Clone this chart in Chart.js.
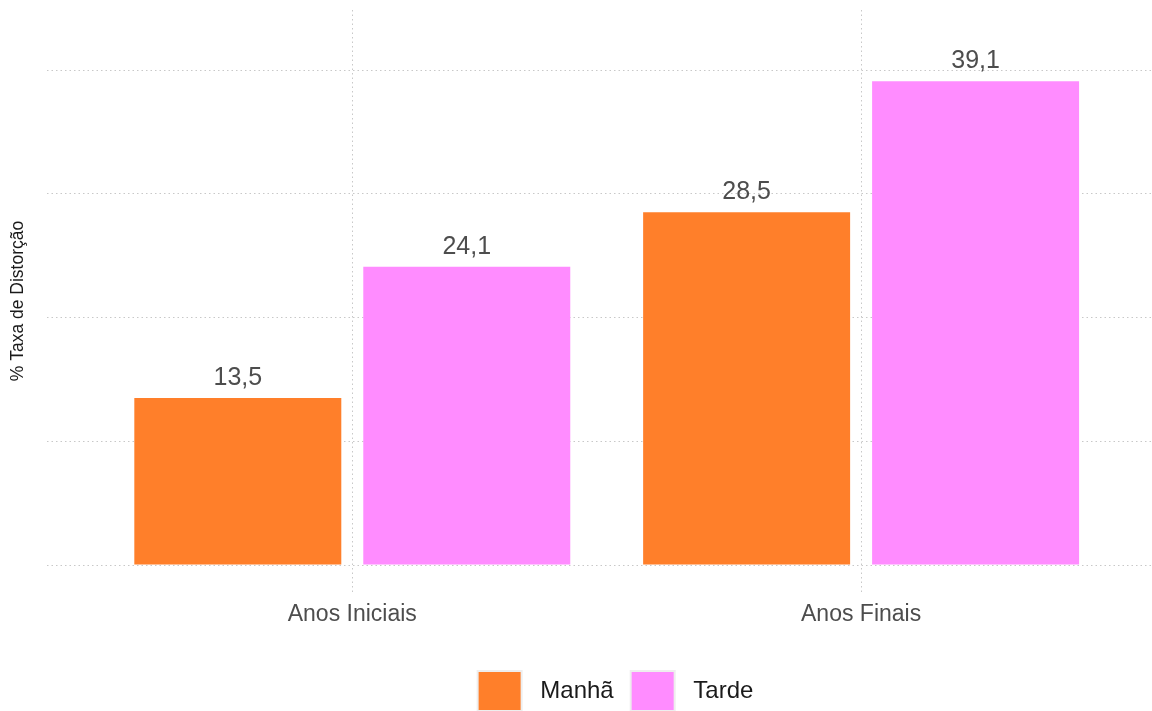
<!DOCTYPE html>
<html>
<head>
<meta charset="utf-8">
<script src="https://cdn.jsdelivr.net/npm/chart.js@4.4.0/dist/chart.umd.min.js"></script>
<style>
  html, body { margin: 0; padding: 0; background: #ffffff; }
  #wrap { width: 1152px; height: 711px; }
</style>
</head>
<body>
<div id="wrap"><canvas id="chart"></canvas></div>
<script>
// etapas de ensino (eixo x)
const categories = ['Anos Iniciais', 'Anos Finais'];
// taxa de distorção idade-série por turno
const manha = [13.5, 28.5];
const tarde = [24.1, 39.1];
const seriesNames = ['Manhã', 'Tarde'];
const yTicks = [0, 10, 20, 30, 40];

const FONT = "'Liberation Sans', Arial, Helvetica, sans-serif";
const gridDots = {
  color: '#c8c8c8',
  lineWidth: 1,
  drawTicks: false,
  offset: false
};

const fmt = v => v.toFixed(1).replace('.', ',');

// rótulos de valor acima de cada barra
const valueLabels = {
  id: 'valueLabels',
  afterDatasetsDraw(chart) {
    const ctx = chart.ctx;
    ctx.save();
    ctx.font = '25px ' + FONT;
    ctx.fillStyle = '#4d4d4d';
    ctx.textAlign = 'center';
    ctx.textBaseline = 'alphabetic';
    chart.data.datasets.forEach((ds, i) => {
      chart.getDatasetMeta(i).data.forEach((bar, j) => {
        ctx.fillText(fmt(ds.data[j].y), bar.x, bar.y - 13);
      });
    });
    ctx.restore();
  }
};

// legenda centrada sobre o painel (à direita do título do eixo)
const legendShift = {
  id: 'legendShift',
  afterLayout(chart) {
    const lg = chart.legend;
    if (!lg) return;
    const dx = (chart.chartArea.left + chart.chartArea.right) / 2 - (lg.left + lg.right) / 2 + 16;
    lg.left += dx;
    lg.right += dx;
    lg.top += 10;
    lg.bottom += 10;
  }
};

const toPoints = vals => vals.map((v, i) => ({ x: i + 1, y: v }));

new Chart(document.getElementById('chart'), {
  type: 'bar',
  data: {
    datasets: [
      {
        label: seriesNames[0],
        data: toPoints(manha),
        backgroundColor: '#ff7f2a',
        borderWidth: 0
      },
      {
        label: seriesNames[1],
        data: toPoints(tarde),
        backgroundColor: '#ff8cff',
        borderWidth: 0
      }
    ]
  },
  plugins: [valueLabels, legendShift],
  options: {
    responsive: true,
    maintainAspectRatio: false,
    animation: false,
    categoryPercentage: 0.9,
    barPercentage: 0.904,
    layout: { padding: { top: 10, left: 0, right: 0, bottom: 0 } },
    scales: {
      x: {
        type: 'linear',
        offset: false,
        min: 0.4,
        max: 2.5717,
        afterBuildTicks: s => { s.ticks = categories.map((c, i) => ({ value: i + 1 })); },
        afterFit: s => { s.height = 52; },
        ticks: {
          callback: (v) => categories[v - 1] || '',
          color: '#4d4d4d',
          font: { family: FONT, size: 23 },
          padding: 9,
          maxRotation: 0,
          autoSkip: false
        },
        grid: gridDots,
        border: { display: false, dash: [1.5, 3] }
      },
      y: {
        min: -2.18,
        max: 44.85,
        afterBuildTicks: s => { s.ticks = yTicks.map(v => ({ value: v })); },
        afterFit: s => { s.width = 47; },
        ticks: { display: false },
        grid: gridDots,
        border: { display: false, dash: [1.5, 3] },
        title: {
          display: true,
          text: '% Taxa de Distorção',
          color: '#1a1a1a',
          font: { family: FONT, size: 17.5 },
          padding: { top: 8, bottom: 0 }
        }
      }
    },
    plugins: {
      tooltip: { enabled: false },
      legend: {
        position: 'bottom',
        labels: {
          boxWidth: 44,
          boxHeight: 40,
          padding: 17,
          color: '#1a1a1a',
          font: { family: FONT, size: 24 },
          generateLabels: chart => chart.data.datasets.map((ds, i) => ({
            text: ' ' + ds.label,
            fillStyle: ds.backgroundColor,
            strokeStyle: '#eeeeee',
            lineWidth: 2,
            fontColor: '#1a1a1a',
            hidden: false,
            datasetIndex: i
          }))
        }
      }
    }
  }
});
</script>
</body>
</html>
